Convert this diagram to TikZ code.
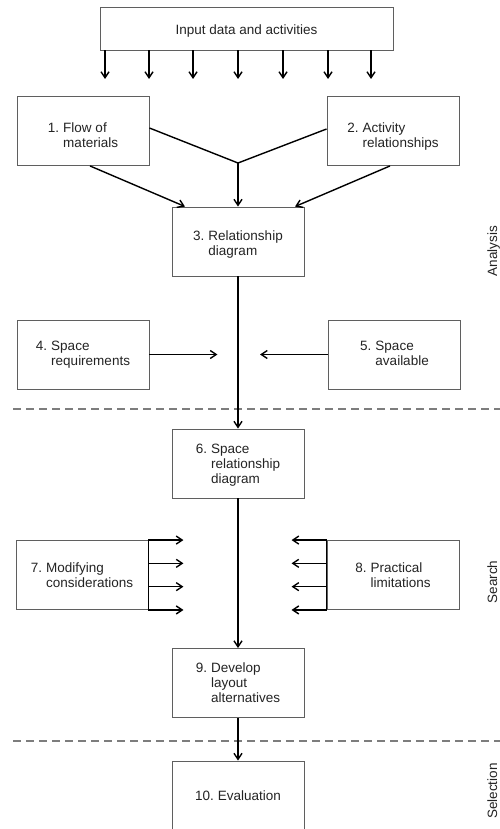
\documentclass[tikz,border=0pt]{standalone}
\usepackage{fontspec}
\setmainfont{Liberation Sans}
\usetikzlibrary{arrows.meta, calc}
\usepackage{xcolor}
\definecolor{boxgray}{RGB}{95,95,95}
\definecolor{dashgray}{RGB}{125,125,125}
\definecolor{txtgray}{RGB}{35,35,35}
\newcommand{\numlabel}[3][0pt]{\rule{0pt}{\dimexpr10.5pt+#1*2\relax}#2\hskip4pt\begin{tabular}[t]{@{}l@{}}#3\end{tabular}}
\tikzset{%
	stepbox/.style={
		draw=boxgray,
		line width=0.9pt,
		minimum width=132pt,
		minimum height=69pt,
		inner sep=0pt,
		text=txtgray,
		font=\fontsize{13.5}{15}\selectfont
	},
	flow/.style={
		line width=1.4pt,
		-{Straight Barb[length=6pt,width=8pt]}
	},
	flowline/.style={line width=1.4pt},
	divider/.style={
		draw=dashgray,
		line width=1.5pt,
		dash pattern=on 8pt off 5pt
	},
	phase/.style={
		rotate=90,
		anchor=base,
		text=txtgray,
		font=\fontsize{13.5}{15}\selectfont
	},
}

\begin{document}
\begin{tikzpicture}[x=1pt, y=-1pt]
	\useasboundingbox (0,0) rectangle (500,829);
	
	\draw[divider] (13,409) -- (500,409);
	\draw[divider] (13,741) -- (500,741);
	
	\node[stepbox, minimum width=293pt, minimum height=43pt] (top) at (246.5,28.5) {\rule{0pt}{15pt}Input data and activities};
	\node[stepbox] (b1) at (83,131) {\numlabel[6pt]{1.}{Flow of\\materials}};
	\node[stepbox] (b2) at (393,131) {\numlabel[6pt]{2.}{Activity\\relationships}};
	\node[stepbox] (b3) at (238,241.5) {\numlabel[3pt]{3.}{Relationship\\diagram}};
	\node[stepbox] (b4) at (83,354.5) {\numlabel{4.}{Space\\requirements}};
	\node[stepbox] (b5) at (394.5,354.5) {\numlabel{5.}{Space\\available}};
	\node[stepbox] (b6) at (238,463.5) {\numlabel[2pt]{6.}{Space\\relationship\\diagram}};
	\node[stepbox] (b7) at (82,575) {\numlabel[1.5pt]{7.}{Modifying\\considerations}};
	\node[stepbox] (b8) at (393,575) {\numlabel[1.5pt]{8.}{Practical\\limitations}};
	\node[stepbox] (b9) at (238,683) {\numlabel[1.5pt]{9.}{Develop\\layout\\alternatives}};
	\node[stepbox] (b10) at (238,795.5) {10.\hskip4pt Evaluation};
	
	\node[phase] (analysis) at (497,251) {Analysis};
	\node[phase] (search) at (497,582) {Search};
	\node[phase] (selection) at (497,791) {Selection};
	
	\foreach \x [count=\i] in {105,149,193,238,283,328,371} {
		\coordinate (in\i) at (\x,79);
		\draw[flow] (top.south -| in\i) -- (in\i);
	}
	
	\coordinate (j) at (238,163);
	\draw[flowline] ([yshift=3pt]b1.east) -- (j);
	\draw[flowline] ([yshift=2pt]b2.west) -- (j);
	\draw[flow] (j) -- (b3.north);
	\draw[flow] ([xshift=7pt]b1.south) -- ([xshift=-53pt]b3.north);
	\draw[flow] ([xshift=-3pt]b2.south) -- ([xshift=57pt]b3.north);
	
	\draw[flow] (b3.south) -- (b6.north);
	\coordinate (r4) at ($(b4.east)+(68,0)$);
	\coordinate (r5) at ($(b5.west)+(-68,0)$);
	\draw[flow] (b4.east) -- (r4);
	\draw[flow] (b5.west) -- (r5);
	
	\draw[flow] (b6.south) -- (b9.north);
	\draw[flowline] (b7.north east) -- (b7.south east);
	\draw[flowline] (b8.north west) -- (b8.south west);
	\foreach \f [count=\i] in {0,0.3333,0.6667,1} {
		\coordinate (m\i) at ($($(b7.north east)!\f!(b7.south east)$)+(35,0)$);
		\draw[flow] ($(b7.north east)!\f!(b7.south east)$) -- (m\i);
		\coordinate (p\i) at ($($(b8.north west)!\f!(b8.south west)$)+(-35,0)$);
		\draw[flow] ($(b8.north west)!\f!(b8.south west)$) -- (p\i);
	}
	
	\draw[flow] (b9.south) -- (b10.north);
\end{tikzpicture}
\end{document}
